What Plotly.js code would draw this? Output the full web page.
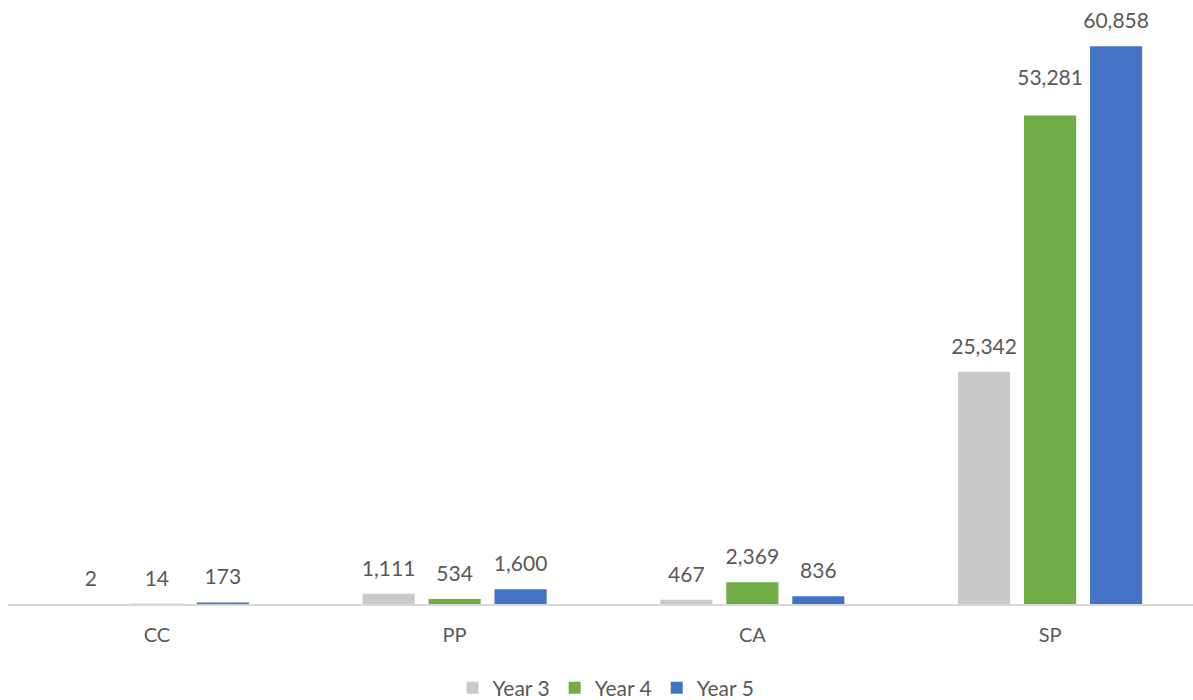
<!DOCTYPE html>
<html>
<head>
<meta charset="utf-8">
<script src="https://cdn.plot.ly/plotly-3.0.1.min.js"></script>
<style>
  html, body { margin: 0; padding: 0; background: #ffffff; }
  #chart { width: 1193px; height: 700px; }
</style>
</head>
<body>
<div id="chart"></div>
<script>
// Categories along the x axis
const categories = ['CC', 'PP', 'CA', 'SP'];

// Values per year
const year3 = [2, 1111, 467, 25342];
const year4 = [14, 534, 2369, 53281];
const year5 = [173, 1600, 836, 60858];

const seriesNames = ['Year 3', 'Year 4', 'Year 5'];
const seriesColors = ['#C9C9C9', '#70AD47', '#4472C4'];
const seriesValues = [year3, year4, year5];

// Number of blank spacer lines under each value label (one per series and category);
// the Year 4 SP label sits a little higher than the others.
const labelSpacers = [
  [1, 1, 1, 1],
  [1, 1, 1, 2],
  [1, 1, 1, 1]
];

const fontFamily = 'Lato, "Open Sans", sans-serif';

// The value is drawn at 21px; small blank lines under it (at the 10px base size)
// lift each label above its bar.
function labelTemplate(spacers) {
  return "<span style='font-size:21px'>%{y:,.0f}</span>" + "<br>&nbsp;".repeat(spacers);
}

const traces = seriesValues.map((vals, i) => ({
  type: 'bar',
  name: seriesNames[i],
  x: categories,
  y: vals,
  marker: { color: seriesColors[i] },
  texttemplate: labelSpacers[i].map(labelTemplate),
  textposition: 'outside',
  constraintext: 'none',
  textfont: { family: fontFamily, size: 10, color: '#595959' },
  cliponaxis: false,
  hoverinfo: 'x+y+name'
}));

const layout = {
  width: 1193,
  height: 700,
  margin: { l: 8, r: 0, t: 10, b: 96 },
  paper_bgcolor: '#ffffff',
  plot_bgcolor: '#ffffff',
  barmode: 'group',
  bargap: 0.335,
  bargroupgap: 0.21,
  showlegend: true,
  legend: {
    orientation: 'h',
    xref: 'container',
    yref: 'container',
    x: 0.508,
    xanchor: 'center',
    y: 0.017,
    yanchor: 'middle',
    font: { family: fontFamily, size: 21, color: '#595959' },
    itemwidth: 30,
    traceorder: 'normal'
  },
  xaxis: {
    range: [-0.5, 3.48],
    showline: true,
    linecolor: '#D9D9D9',
    linewidth: 1.5,
    layer: 'above traces',
    showgrid: false,
    zeroline: false,
    ticks: '',
    ticklen: 0,
    ticklabelstandoff: 12,
    tickfont: { family: fontFamily, size: 20, color: '#595959' },
    fixedrange: true
  },
  yaxis: {
    range: [0, 64800],
    visible: false,
    showgrid: false,
    zeroline: false,
    fixedrange: true
  }
};

Plotly.newPlot('chart', traces, layout, { displayModeBar: false, staticPlot: true });
</script>
</body>
</html>
